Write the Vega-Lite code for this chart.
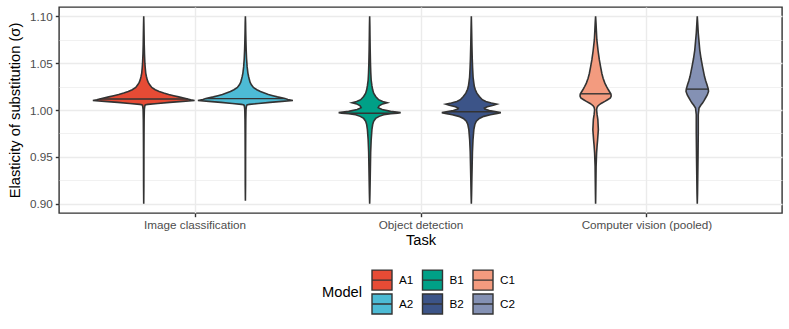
{
  "$schema": "https://vega.github.io/schema/vega-lite/v6.json",
  "width": 723,
  "height": 206,
  "autosize": "none",
  "padding": {"left": 59, "top": 7, "right": 7, "bottom": 116},
  "config": {
    "font": "Liberation Sans",
    "view": {"stroke": "#333333", "strokeWidth": 1.4},
    "axis": {"domain": false, "gridColor": "#EBEBEB", "tickColor": "#333333", "tickWidth": 1.4, "tickSize": 3.7, "labelColor": "#4D4D4D", "labelFontSize": 11.7, "titleFontSize": 14.7, "titleFontWeight": "normal", "titleColor": "#000000"}
  },
  "data": {"values": [
    {"Task": "Image classification", "Model": "A1", "value": 0.900, "density": 0},
    {"Task": "Image classification", "Model": "A1", "value": 0.920, "density": 0.3},
    {"Task": "Image classification", "Model": "A1", "value": 0.950, "density": 0.4},
    {"Task": "Image classification", "Model": "A1", "value": 0.975, "density": 0.6},
    {"Task": "Image classification", "Model": "A1", "value": 0.990, "density": 0.8},
    {"Task": "Image classification", "Model": "A1", "value": 1.000, "density": 1.2},
    {"Task": "Image classification", "Model": "A1", "value": 1.003, "density": 1.8},
    {"Task": "Image classification", "Model": "A1", "value": 1.0050, "density": 2.5},
    {"Task": "Image classification", "Model": "A1", "value": 1.0056, "density": 4},
    {"Task": "Image classification", "Model": "A1", "value": 1.0060, "density": 8},
    {"Task": "Image classification", "Model": "A1", "value": 1.0070, "density": 28},
    {"Task": "Image classification", "Model": "A1", "value": 1.0081, "density": 52},
    {"Task": "Image classification", "Model": "A1", "value": 1.0092, "density": 78},
    {"Task": "Image classification", "Model": "A1", "value": 1.0102, "density": 101.7},
    {"Task": "Image classification", "Model": "A1", "value": 1.0110, "density": 94},
    {"Task": "Image classification", "Model": "A1", "value": 1.0118, "density": 88, "q": 0.5},
    {"Task": "Image classification", "Model": "A1", "value": 1.0128, "density": 80},
    {"Task": "Image classification", "Model": "A1", "value": 1.0140, "density": 70},
    {"Task": "Image classification", "Model": "A1", "value": 1.0152, "density": 60},
    {"Task": "Image classification", "Model": "A1", "value": 1.0165, "density": 50},
    {"Task": "Image classification", "Model": "A1", "value": 1.0181, "density": 40},
    {"Task": "Image classification", "Model": "A1", "value": 1.0197, "density": 31},
    {"Task": "Image classification", "Model": "A1", "value": 1.0216, "density": 23},
    {"Task": "Image classification", "Model": "A1", "value": 1.0240, "density": 16},
    {"Task": "Image classification", "Model": "A1", "value": 1.0269, "density": 12},
    {"Task": "Image classification", "Model": "A1", "value": 1.0295, "density": 9},
    {"Task": "Image classification", "Model": "A1", "value": 1.0322, "density": 7},
    {"Task": "Image classification", "Model": "A1", "value": 1.0355, "density": 5.5},
    {"Task": "Image classification", "Model": "A1", "value": 1.0394, "density": 4},
    {"Task": "Image classification", "Model": "A1", "value": 1.045, "density": 3},
    {"Task": "Image classification", "Model": "A1", "value": 1.050, "density": 2.3},
    {"Task": "Image classification", "Model": "A1", "value": 1.060, "density": 1.5},
    {"Task": "Image classification", "Model": "A1", "value": 1.070, "density": 1},
    {"Task": "Image classification", "Model": "A1", "value": 1.080, "density": 0.7},
    {"Task": "Image classification", "Model": "A1", "value": 1.090, "density": 0.4},
    {"Task": "Image classification", "Model": "A1", "value": 1.100, "density": 0},

    {"Task": "Image classification", "Model": "A2", "value": 0.903, "density": 0},
    {"Task": "Image classification", "Model": "A2", "value": 0.920, "density": 0.3},
    {"Task": "Image classification", "Model": "A2", "value": 0.950, "density": 0.4},
    {"Task": "Image classification", "Model": "A2", "value": 0.975, "density": 0.6},
    {"Task": "Image classification", "Model": "A2", "value": 0.990, "density": 0.8},
    {"Task": "Image classification", "Model": "A2", "value": 1.000, "density": 1.2},
    {"Task": "Image classification", "Model": "A2", "value": 1.003, "density": 1.8},
    {"Task": "Image classification", "Model": "A2", "value": 1.0050, "density": 2.5},
    {"Task": "Image classification", "Model": "A2", "value": 1.0056, "density": 4},
    {"Task": "Image classification", "Model": "A2", "value": 1.0060, "density": 8},
    {"Task": "Image classification", "Model": "A2", "value": 1.0070, "density": 26},
    {"Task": "Image classification", "Model": "A2", "value": 1.0081, "density": 49},
    {"Task": "Image classification", "Model": "A2", "value": 1.0092, "density": 73},
    {"Task": "Image classification", "Model": "A2", "value": 1.0102, "density": 95},
    {"Task": "Image classification", "Model": "A2", "value": 1.0112, "density": 85},
    {"Task": "Image classification", "Model": "A2", "value": 1.0122, "density": 79, "q": 0.5},
    {"Task": "Image classification", "Model": "A2", "value": 1.0128, "density": 75},
    {"Task": "Image classification", "Model": "A2", "value": 1.0140, "density": 64},
    {"Task": "Image classification", "Model": "A2", "value": 1.0152, "density": 55},
    {"Task": "Image classification", "Model": "A2", "value": 1.0165, "density": 46},
    {"Task": "Image classification", "Model": "A2", "value": 1.0181, "density": 38},
    {"Task": "Image classification", "Model": "A2", "value": 1.0197, "density": 30},
    {"Task": "Image classification", "Model": "A2", "value": 1.0216, "density": 23},
    {"Task": "Image classification", "Model": "A2", "value": 1.0240, "density": 16},
    {"Task": "Image classification", "Model": "A2", "value": 1.0269, "density": 12},
    {"Task": "Image classification", "Model": "A2", "value": 1.0295, "density": 9.5},
    {"Task": "Image classification", "Model": "A2", "value": 1.0322, "density": 8},
    {"Task": "Image classification", "Model": "A2", "value": 1.0355, "density": 6.5},
    {"Task": "Image classification", "Model": "A2", "value": 1.0394, "density": 5},
    {"Task": "Image classification", "Model": "A2", "value": 1.046, "density": 3.5},
    {"Task": "Image classification", "Model": "A2", "value": 1.055, "density": 2.3},
    {"Task": "Image classification", "Model": "A2", "value": 1.065, "density": 1.5},
    {"Task": "Image classification", "Model": "A2", "value": 1.075, "density": 1},
    {"Task": "Image classification", "Model": "A2", "value": 1.085, "density": 0.6},
    {"Task": "Image classification", "Model": "A2", "value": 1.093, "density": 0.4},
    {"Task": "Image classification", "Model": "A2", "value": 1.100, "density": 0},

    {"Task": "Object detection", "Model": "B1", "value": 0.900, "density": 0},
    {"Task": "Object detection", "Model": "B1", "value": 0.910, "density": 0.5},
    {"Task": "Object detection", "Model": "B1", "value": 0.925, "density": 1},
    {"Task": "Object detection", "Model": "B1", "value": 0.940, "density": 1.5},
    {"Task": "Object detection", "Model": "B1", "value": 0.955, "density": 2},
    {"Task": "Object detection", "Model": "B1", "value": 0.968, "density": 3},
    {"Task": "Object detection", "Model": "B1", "value": 0.979, "density": 4.5},
    {"Task": "Object detection", "Model": "B1", "value": 0.9845, "density": 6},
    {"Task": "Object detection", "Model": "B1", "value": 0.9879, "density": 8},
    {"Task": "Object detection", "Model": "B1", "value": 0.9910, "density": 12},
    {"Task": "Object detection", "Model": "B1", "value": 0.9932, "density": 19},
    {"Task": "Object detection", "Model": "B1", "value": 0.9950, "density": 28},
    {"Task": "Object detection", "Model": "B1", "value": 0.9960, "density": 42},
    {"Task": "Object detection", "Model": "B1", "value": 0.9966, "density": 56, "q": 0.5},
    {"Task": "Object detection", "Model": "B1", "value": 0.9972, "density": 62},
    {"Task": "Object detection", "Model": "B1", "value": 0.9985, "density": 42},
    {"Task": "Object detection", "Model": "B1", "value": 1.0005, "density": 25},
    {"Task": "Object detection", "Model": "B1", "value": 1.0025, "density": 17},
    {"Task": "Object detection", "Model": "B1", "value": 1.0045, "density": 19},
    {"Task": "Object detection", "Model": "B1", "value": 1.0065, "density": 26},
    {"Task": "Object detection", "Model": "B1", "value": 1.0078, "density": 35},
    {"Task": "Object detection", "Model": "B1", "value": 1.0090, "density": 26},
    {"Task": "Object detection", "Model": "B1", "value": 1.0110, "density": 18},
    {"Task": "Object detection", "Model": "B1", "value": 1.0145, "density": 12},
    {"Task": "Object detection", "Model": "B1", "value": 1.0180, "density": 8},
    {"Task": "Object detection", "Model": "B1", "value": 1.0216, "density": 6},
    {"Task": "Object detection", "Model": "B1", "value": 1.0260, "density": 4.5},
    {"Task": "Object detection", "Model": "B1", "value": 1.032, "density": 3},
    {"Task": "Object detection", "Model": "B1", "value": 1.040, "density": 2.2},
    {"Task": "Object detection", "Model": "B1", "value": 1.050, "density": 1.6},
    {"Task": "Object detection", "Model": "B1", "value": 1.065, "density": 1},
    {"Task": "Object detection", "Model": "B1", "value": 1.080, "density": 0.6},
    {"Task": "Object detection", "Model": "B1", "value": 1.090, "density": 0.4},
    {"Task": "Object detection", "Model": "B1", "value": 1.100, "density": 0},

    {"Task": "Object detection", "Model": "B2", "value": 0.900, "density": 0},
    {"Task": "Object detection", "Model": "B2", "value": 0.910, "density": 0.5},
    {"Task": "Object detection", "Model": "B2", "value": 0.925, "density": 1},
    {"Task": "Object detection", "Model": "B2", "value": 0.940, "density": 1.6},
    {"Task": "Object detection", "Model": "B2", "value": 0.955, "density": 2.2},
    {"Task": "Object detection", "Model": "B2", "value": 0.968, "density": 3.3},
    {"Task": "Object detection", "Model": "B2", "value": 0.979, "density": 5},
    {"Task": "Object detection", "Model": "B2", "value": 0.9845, "density": 7},
    {"Task": "Object detection", "Model": "B2", "value": 0.9880, "density": 10},
    {"Task": "Object detection", "Model": "B2", "value": 0.9910, "density": 16},
    {"Task": "Object detection", "Model": "B2", "value": 0.9932, "density": 25},
    {"Task": "Object detection", "Model": "B2", "value": 0.9950, "density": 38},
    {"Task": "Object detection", "Model": "B2", "value": 0.9964, "density": 52},
    {"Task": "Object detection", "Model": "B2", "value": 0.9972, "density": 59},
    {"Task": "Object detection", "Model": "B2", "value": 0.9982, "density": 50, "q": 0.5},
    {"Task": "Object detection", "Model": "B2", "value": 0.9995, "density": 36},
    {"Task": "Object detection", "Model": "B2", "value": 1.0010, "density": 27},
    {"Task": "Object detection", "Model": "B2", "value": 1.0020, "density": 26},
    {"Task": "Object detection", "Model": "B2", "value": 1.0035, "density": 32},
    {"Task": "Object detection", "Model": "B2", "value": 1.0050, "density": 44},
    {"Task": "Object detection", "Model": "B2", "value": 1.0062, "density": 51},
    {"Task": "Object detection", "Model": "B2", "value": 1.0075, "density": 40},
    {"Task": "Object detection", "Model": "B2", "value": 1.0090, "density": 29},
    {"Task": "Object detection", "Model": "B2", "value": 1.0110, "density": 22},
    {"Task": "Object detection", "Model": "B2", "value": 1.0145, "density": 16},
    {"Task": "Object detection", "Model": "B2", "value": 1.0180, "density": 11},
    {"Task": "Object detection", "Model": "B2", "value": 1.0216, "density": 8},
    {"Task": "Object detection", "Model": "B2", "value": 1.0250, "density": 6},
    {"Task": "Object detection", "Model": "B2", "value": 1.0287, "density": 5},
    {"Task": "Object detection", "Model": "B2", "value": 1.035, "density": 3.5},
    {"Task": "Object detection", "Model": "B2", "value": 1.045, "density": 2.5},
    {"Task": "Object detection", "Model": "B2", "value": 1.055, "density": 1.8},
    {"Task": "Object detection", "Model": "B2", "value": 1.070, "density": 1.1},
    {"Task": "Object detection", "Model": "B2", "value": 1.085, "density": 0.6},
    {"Task": "Object detection", "Model": "B2", "value": 1.100, "density": 0},

    {"Task": "Computer vision (pooled)", "Model": "C1", "value": 0.900, "density": 0},
    {"Task": "Computer vision (pooled)", "Model": "C1", "value": 0.910, "density": 0.3},
    {"Task": "Computer vision (pooled)", "Model": "C1", "value": 0.9225, "density": 0.6},
    {"Task": "Computer vision (pooled)", "Model": "C1", "value": 0.940, "density": 1},
    {"Task": "Computer vision (pooled)", "Model": "C1", "value": 0.9545, "density": 2},
    {"Task": "Computer vision (pooled)", "Model": "C1", "value": 0.962, "density": 3},
    {"Task": "Computer vision (pooled)", "Model": "C1", "value": 0.968, "density": 4},
    {"Task": "Computer vision (pooled)", "Model": "C1", "value": 0.979, "density": 5.5},
    {"Task": "Computer vision (pooled)", "Model": "C1", "value": 0.9897, "density": 4.5},
    {"Task": "Computer vision (pooled)", "Model": "C1", "value": 0.995, "density": 3},
    {"Task": "Computer vision (pooled)", "Model": "C1", "value": 1.0003, "density": 2},
    {"Task": "Computer vision (pooled)", "Model": "C1", "value": 1.0030, "density": 3},
    {"Task": "Computer vision (pooled)", "Model": "C1", "value": 1.0046, "density": 5},
    {"Task": "Computer vision (pooled)", "Model": "C1", "value": 1.0070, "density": 11},
    {"Task": "Computer vision (pooled)", "Model": "C1", "value": 1.0092, "density": 18.5},
    {"Task": "Computer vision (pooled)", "Model": "C1", "value": 1.0110, "density": 24},
    {"Task": "Computer vision (pooled)", "Model": "C1", "value": 1.0128, "density": 29.5},
    {"Task": "Computer vision (pooled)", "Model": "C1", "value": 1.0145, "density": 31},
    {"Task": "Computer vision (pooled)", "Model": "C1", "value": 1.0160, "density": 31},
    {"Task": "Computer vision (pooled)", "Model": "C1", "value": 1.0173, "density": 30.5, "q": 0.5},
    {"Task": "Computer vision (pooled)", "Model": "C1", "value": 1.0190, "density": 28.5},
    {"Task": "Computer vision (pooled)", "Model": "C1", "value": 1.0216, "density": 25.5},
    {"Task": "Computer vision (pooled)", "Model": "C1", "value": 1.0250, "density": 22},
    {"Task": "Computer vision (pooled)", "Model": "C1", "value": 1.0287, "density": 18.5},
    {"Task": "Computer vision (pooled)", "Model": "C1", "value": 1.034, "density": 15},
    {"Task": "Computer vision (pooled)", "Model": "C1", "value": 1.039, "density": 12.5},
    {"Task": "Computer vision (pooled)", "Model": "C1", "value": 1.046, "density": 10},
    {"Task": "Computer vision (pooled)", "Model": "C1", "value": 1.0535, "density": 7.5},
    {"Task": "Computer vision (pooled)", "Model": "C1", "value": 1.063, "density": 5},
    {"Task": "Computer vision (pooled)", "Model": "C1", "value": 1.0748, "density": 2.5},
    {"Task": "Computer vision (pooled)", "Model": "C1", "value": 1.085, "density": 1.5},
    {"Task": "Computer vision (pooled)", "Model": "C1", "value": 1.093, "density": 0.8},
    {"Task": "Computer vision (pooled)", "Model": "C1", "value": 1.100, "density": 0},

    {"Task": "Computer vision (pooled)", "Model": "C2", "value": 0.900, "density": 0},
    {"Task": "Computer vision (pooled)", "Model": "C2", "value": 0.910, "density": 0.5},
    {"Task": "Computer vision (pooled)", "Model": "C2", "value": 0.930, "density": 1},
    {"Task": "Computer vision (pooled)", "Model": "C2", "value": 0.950, "density": 1.5},
    {"Task": "Computer vision (pooled)", "Model": "C2", "value": 0.976, "density": 2},
    {"Task": "Computer vision (pooled)", "Model": "C2", "value": 0.995, "density": 2},
    {"Task": "Computer vision (pooled)", "Model": "C2", "value": 1.0021, "density": 3.5},
    {"Task": "Computer vision (pooled)", "Model": "C2", "value": 1.0050, "density": 7},
    {"Task": "Computer vision (pooled)", "Model": "C2", "value": 1.0074, "density": 10.5},
    {"Task": "Computer vision (pooled)", "Model": "C2", "value": 1.0100, "density": 13.5},
    {"Task": "Computer vision (pooled)", "Model": "C2", "value": 1.0128, "density": 16.5},
    {"Task": "Computer vision (pooled)", "Model": "C2", "value": 1.0160, "density": 20},
    {"Task": "Computer vision (pooled)", "Model": "C2", "value": 1.0198, "density": 22.5},
    {"Task": "Computer vision (pooled)", "Model": "C2", "value": 1.0223, "density": 22, "q": 0.5},
    {"Task": "Computer vision (pooled)", "Model": "C2", "value": 1.0269, "density": 19.5},
    {"Task": "Computer vision (pooled)", "Model": "C2", "value": 1.031, "density": 17},
    {"Task": "Computer vision (pooled)", "Model": "C2", "value": 1.0357, "density": 14.5},
    {"Task": "Computer vision (pooled)", "Model": "C2", "value": 1.041, "density": 12.5},
    {"Task": "Computer vision (pooled)", "Model": "C2", "value": 1.0464, "density": 10.5},
    {"Task": "Computer vision (pooled)", "Model": "C2", "value": 1.055, "density": 7.5},
    {"Task": "Computer vision (pooled)", "Model": "C2", "value": 1.064, "density": 5},
    {"Task": "Computer vision (pooled)", "Model": "C2", "value": 1.073, "density": 3.5},
    {"Task": "Computer vision (pooled)", "Model": "C2", "value": 1.082, "density": 2},
    {"Task": "Computer vision (pooled)", "Model": "C2", "value": 1.091, "density": 1},
    {"Task": "Computer vision (pooled)", "Model": "C2", "value": 1.100, "density": 0}
  ]},
  "transform": [
    {"stack": "density", "groupby": ["Model", "value"], "offset": "center", "as": ["lo", "hi"]}
  ],
  "encoding": {
    "y": {
      "field": "value", "type": "quantitative",
      "scale": {"domain": [0.89, 1.11], "nice": false, "zero": false},
      "axis": {
        "title": "Elasticity of substitution (σ)",
        "values": [0.9, 0.925, 0.95, 0.975, 1, 1.025, 1.05, 1.075, 1.1],
        "labelExpr": "round(datum.value*1000) % 50 === 0 ? format(datum.value, '.2f') : ''",
        "grid": true,
        "gridWidth": {"condition": {"test": "round(datum.value*1000) % 50 === 0", "value": 1.4}, "value": 0.7},
        "tickOpacity": {"condition": {"test": "round(datum.value*1000) % 50 === 0", "value": 1}, "value": 0},
        "labelPadding": 3,
        "titlePadding": 7
      }
    }
  },
  "layer": [
    {
      "mark": {"type": "point", "opacity": 0},
      "encoding": {
        "x": {
          "field": "Task", "type": "nominal",
          "scale": {"type": "point", "domain": ["Image classification", "Object detection", "Computer vision (pooled)"], "padding": 0.6},
          "axis": {"title": "Task", "orient": "bottom", "grid": true, "gridWidth": 1.4, "labelAngle": 0, "labelPadding": 3, "titlePadding": 1}
        }
      }
    },
    {
      "transform": [{"filter": {"field": "Model", "equal": "A1"}}],
      "encoding": {
        "x": {"field": "lo", "type": "quantitative", "scale": {"domain": [-33.877, 689.123], "nice": false, "zero": false}, "axis": null},
        "x2": {"field": "hi"}
      },
      "layer": [
        {"mark": {"type": "area", "orient": "horizontal", "stroke": "#333333", "strokeWidth": 1.6, "opacity": 1},
         "encoding": {"color": {"field": "Model", "type": "nominal",
           "scale": {"domain": ["A1", "B1", "C1", "A2", "B2", "C2"], "range": ["#E64B35", "#00A087", "#F39B7F", "#4DBBD5", "#3C5488", "#8491B4"]},
           "legend": {"orient": "none", "legendX": 263, "legendY": 262, "direction": "horizontal", "columns": 3, "title": "Model", "titleOrient": "left", "titleAnchor": "middle", "titleBaseline": "middle", "titleFontSize": 14.7, "titleFontWeight": "normal", "titleColor": "#000000", "titlePadding": 8, "labelFontSize": 11.7, "labelColor": "#000000", "labelOffset": 6, "columnPadding": 5.5, "rowPadding": -3, "symbolType": "M-1,-1H1V1H-1Z M-1,0H1", "symbolSize": 400, "symbolStrokeColor": "#333333", "symbolStrokeWidth": 1.4, "symbolOpacity": 1}}}},
        {"transform": [{"filter": "datum.q === 0.5"}], "mark": {"type": "rule", "color": "#333333", "strokeWidth": 1.4}}
      ]
    },
    {
      "transform": [{"filter": {"field": "Model", "equal": "A2"}}],
      "encoding": {
        "x": {"field": "lo", "type": "quantitative", "scale": {"domain": [-135.548, 587.452], "nice": false, "zero": false}, "axis": null},
        "x2": {"field": "hi"}
      },
      "layer": [
        {"mark": {"type": "area", "orient": "horizontal", "stroke": "#333333", "strokeWidth": 1.6, "opacity": 1},
         "encoding": {"color": {"field": "Model", "type": "nominal",
           "scale": {"domain": ["A1", "B1", "C1", "A2", "B2", "C2"], "range": ["#E64B35", "#00A087", "#F39B7F", "#4DBBD5", "#3C5488", "#8491B4"]}}}},
        {"transform": [{"filter": "datum.q === 0.5"}], "mark": {"type": "rule", "color": "#333333", "strokeWidth": 1.4}}
      ]
    },
    {
      "transform": [{"filter": {"field": "Model", "equal": "B1"}}],
      "encoding": {
        "x": {"field": "lo", "type": "quantitative", "scale": {"domain": [-259.814, 463.186], "nice": false, "zero": false}, "axis": null},
        "x2": {"field": "hi"}
      },
      "layer": [
        {"mark": {"type": "area", "orient": "horizontal", "stroke": "#333333", "strokeWidth": 1.6, "opacity": 1},
         "encoding": {"color": {"field": "Model", "type": "nominal",
           "scale": {"domain": ["A1", "B1", "C1", "A2", "B2", "C2"], "range": ["#E64B35", "#00A087", "#F39B7F", "#4DBBD5", "#3C5488", "#8491B4"]}}}},
        {"transform": [{"filter": "datum.q === 0.5"}], "mark": {"type": "rule", "color": "#333333", "strokeWidth": 1.4}}
      ]
    },
    {
      "transform": [{"filter": {"field": "Model", "equal": "B2"}}],
      "encoding": {
        "x": {"field": "lo", "type": "quantitative", "scale": {"domain": [-361.486, 361.514], "nice": false, "zero": false}, "axis": null},
        "x2": {"field": "hi"}
      },
      "layer": [
        {"mark": {"type": "area", "orient": "horizontal", "stroke": "#333333", "strokeWidth": 1.6, "opacity": 1},
         "encoding": {"color": {"field": "Model", "type": "nominal",
           "scale": {"domain": ["A1", "B1", "C1", "A2", "B2", "C2"], "range": ["#E64B35", "#00A087", "#F39B7F", "#4DBBD5", "#3C5488", "#8491B4"]}}}},
        {"transform": [{"filter": "datum.q === 0.5"}], "mark": {"type": "rule", "color": "#333333", "strokeWidth": 1.4}}
      ]
    },
    {
      "transform": [{"filter": {"field": "Model", "equal": "C1"}}],
      "encoding": {
        "x": {"field": "lo", "type": "quantitative", "scale": {"domain": [-485.752, 237.248], "nice": false, "zero": false}, "axis": null},
        "x2": {"field": "hi"}
      },
      "layer": [
        {"mark": {"type": "area", "orient": "horizontal", "stroke": "#333333", "strokeWidth": 1.6, "opacity": 1},
         "encoding": {"color": {"field": "Model", "type": "nominal",
           "scale": {"domain": ["A1", "B1", "C1", "A2", "B2", "C2"], "range": ["#E64B35", "#00A087", "#F39B7F", "#4DBBD5", "#3C5488", "#8491B4"]}}}},
        {"transform": [{"filter": "datum.q === 0.5"}], "mark": {"type": "rule", "color": "#333333", "strokeWidth": 1.4}}
      ]
    },
    {
      "transform": [{"filter": {"field": "Model", "equal": "C2"}}],
      "encoding": {
        "x": {"field": "lo", "type": "quantitative", "scale": {"domain": [-587.423, 135.577], "nice": false, "zero": false}, "axis": null},
        "x2": {"field": "hi"}
      },
      "layer": [
        {"mark": {"type": "area", "orient": "horizontal", "stroke": "#333333", "strokeWidth": 1.6, "opacity": 1},
         "encoding": {"color": {"field": "Model", "type": "nominal",
           "scale": {"domain": ["A1", "B1", "C1", "A2", "B2", "C2"], "range": ["#E64B35", "#00A087", "#F39B7F", "#4DBBD5", "#3C5488", "#8491B4"]}}}},
        {"transform": [{"filter": "datum.q === 0.5"}], "mark": {"type": "rule", "color": "#333333", "strokeWidth": 1.4}}
      ]
    }
  ],
  "resolve": {"scale": {"x": "independent"}}
}
